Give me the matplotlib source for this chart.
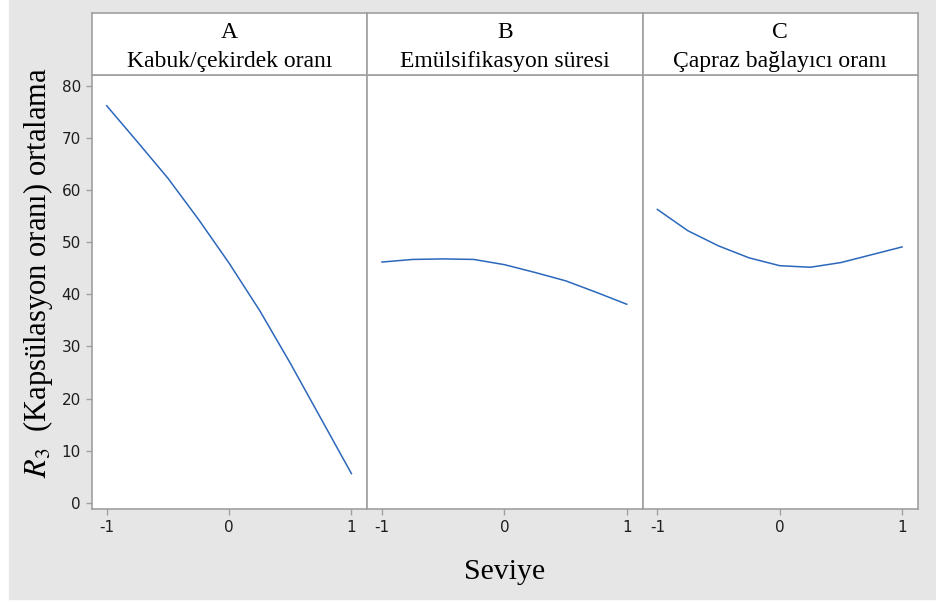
import numpy as np
import matplotlib.pyplot as plt
from matplotlib.patches import Rectangle

levels = [-1, -0.75, -0.5, -0.25, 0, 0.25, 0.5, 0.75, 1]
shell_core = [76.2, 69.3, 62.3, 54.4, 46.0, 36.9, 26.8, 16.2, 5.6]
emulsify_time = [46.2, 46.7, 46.8, 46.7, 45.7, 44.2, 42.6, 40.4, 38.1]
crosslinker = [56.3, 52.2, 49.3, 47.0, 45.5, 45.2, 46.1, 47.6, 49.1]

factor_letters = ['A', 'B', 'C']
factor_names = ['Kabuk/çekirdek oranı', 'Emülsifikasyon süresi', 'Çapraz bağlayıcı oranı']
series = [shell_core, emulsify_time, crosslinker]

x_ticks = [-1, 0, 1]
y_ticks = [0, 10, 20, 30, 40, 50, 60, 70, 80]

W, H = 937, 603
fig = plt.figure(figsize=(W / 100, H / 100), dpi=100, facecolor='white')
fig.patches.append(Rectangle((9 / W, 4 / H), 1 - 9 / W, 1 - 4 / H,
                             transform=fig.transFigure, color='#e6e6e6', zorder=-10))

edge = '#a0a0a0'
line_col = '#2b68bb'
serif = 'Liberation Serif'

left, right = 92 / W, 918 / W
bottom, mid, top = 1 - 509 / H, 1 - 75 / H, 1 - 13 / H
pw = (right - left) / 3

for i in range(3):
    x0 = left + i * pw
    ax = fig.add_axes([x0, bottom, pw, mid - bottom])
    ax.plot(levels, series[i], color=line_col, lw=1.1)
    ax.set_xlim(-1.12, 1.13)
    ax.set_ylim(-1.2, 82.1)
    ax.set_xticks(x_ticks)
    ax.set_xticklabels([str(t) for t in x_ticks])
    ax.set_yticks(y_ticks)
    ax.tick_params(color=edge, length=4, width=1, labelsize=11,
                   labelcolor='#1e1e1e', pad=4)
    for s in ax.spines.values():
        s.set_color(edge)
        s.set_linewidth(1.2)
    if i > 0:
        ax.tick_params(axis='y', left=False, labelleft=False)

    hx = fig.add_axes([x0, mid, pw, top - mid])
    hx.set_xticks([])
    hx.set_yticks([])
    for s in hx.spines.values():
        s.set_color(edge)
        s.set_linewidth(1.2)
    hx.text(0.5, 0.68, factor_letters[i], ha='center', va='center',
            fontsize=17, family=serif, transform=hx.transAxes)
    hx.text(0.5, 0.13, factor_names[i], ha='center', va='baseline',
            fontsize=17, family=serif, transform=hx.transAxes)

fig.text(505 / W, 1 - 572 / H, 'Seviye', ha='center', va='center',
         fontsize=21.5, family=serif)
fig.text(38 / W, 1 - 273 / H, r'$R_3$  (Kapsülasyon oranı) ortalama',
         ha='center', va='center', rotation=90, fontsize=22, family=serif,
         math_fontfamily='stix')

fig.savefig('out.png', dpi=100, facecolor=fig.get_facecolor())
